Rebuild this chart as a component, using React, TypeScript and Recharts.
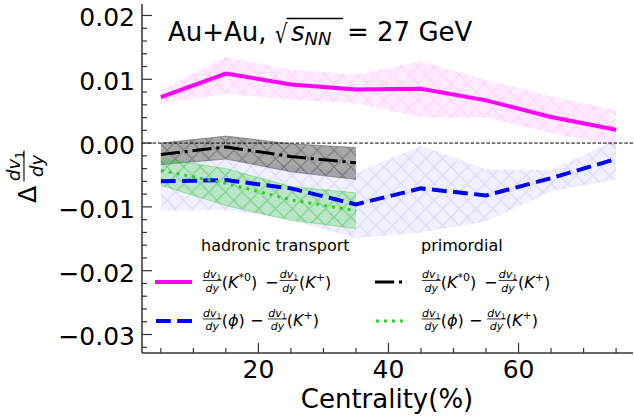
import React from "react";
import { ComposedChart, Line, Area, XAxis, YAxis, ReferenceLine } from "recharts";

// centrality bins (%)
const centrality = [5, 15, 25, 35, 45, 55, 65, 75];
const primCentrality = [5, 15, 25, 35];

// hadronic transport: K*0 - K+
const hadKstar = [0.0072, 0.0109, 0.0092, 0.0084, 0.0085, 0.0067, 0.0041, 0.0021];
const hadKstarLow = [0.0063, 0.0077, 0.0068, 0.0063, 0.004, 0.004, 0.0016, -0.0005];
const hadKstarHigh = [0.0083, 0.0135, 0.0115, 0.0107, 0.0128, 0.0099, 0.0073, 0.0052];

// hadronic transport: phi - K+
const hadPhi = [-0.006, -0.0058, -0.0071, -0.0096, -0.0071, -0.0082, -0.0055, -0.0025];
const hadPhiLow = [-0.0106, -0.0105, -0.012, -0.0149, -0.014, -0.0123, -0.0076, -0.0057];
const hadPhiHigh = [-0.003, -0.0025, -0.0035, -0.0047, -0.0004, -0.0041, -0.0042, 0.0005];

// primordial: K*0 - K+
const primKstar = [-0.0018, -0.0006, -0.0021, -0.0031];
const primKstarLow = [-0.0034, -0.0025, -0.0045, -0.0057];
const primKstarHigh = [0.0, 0.0011, -0.0001, -0.0007];

// primordial: phi - K+
const primPhi = [-0.0043, -0.0063, -0.0089, -0.0106];
const primPhiLow = [-0.0066, -0.0098, -0.0121, -0.0134];
const primPhiHigh = [-0.0024, -0.004, -0.0068, -0.0078];

const xTicks = [5, 10, 15, 20, 25, 30, 35, 40, 45, 50, 55, 60, 65, 70, 75];
const xMajor = [20, 40, 60];
const yTicks = [
  -0.032, -0.03, -0.028, -0.026, -0.024, -0.022, -0.02, -0.018, -0.016, -0.014, -0.012, -0.01,
  -0.008, -0.006, -0.004, -0.002, 0, 0.002, 0.004, 0.006, 0.008, 0.01, 0.012, 0.014, 0.016,
  0.018, 0.02,
];

const FONT = "DejaVu Sans";
const FRAME = "#333";

const hadData = centrality.map((x, i) => ({
  x,
  kstar: hadKstar[i],
  kstarBand: [hadKstarLow[i], hadKstarHigh[i]],
  phi: hadPhi[i],
  phiBand: [hadPhiLow[i], hadPhiHigh[i]],
}));

const primData = primCentrality.map((x, i) => ({
  x,
  kstar: primKstar[i],
  kstarBand: [primKstarLow[i], primKstarHigh[i]],
  phi: primPhi[i],
  phiBand: [primPhiLow[i], primPhiHigh[i]],
}));

const isMajorY = (v: number) => Math.abs(v * 100 - Math.round(v * 100)) < 1e-6;
const fmtY = (v: number) => (v < -1e-9 ? "\u2212" : "") + Math.abs(v).toFixed(2);

function BottomTick(props: any) {
  const { x, y, payload } = props;
  const major = xMajor.includes(payload.value);
  return (
    <g>
      <line x1={x} x2={x} y1={y} y2={y - (major ? 10 : 5)} stroke={FRAME} strokeWidth={1.2} />
      {major && (
        <text x={x} y={y + 25} textAnchor="middle" fontSize={25} fontFamily={FONT} fill="#000">
          {payload.value}
        </text>
      )}
    </g>
  );
}

function TopTick(props: any) {
  const { x, y, payload } = props;
  const major = xMajor.includes(payload.value);
  return <line x1={x} x2={x} y1={y} y2={y + (major ? 10 : 5)} stroke={FRAME} strokeWidth={1.2} />;
}

function LeftTick(props: any) {
  const { x, y, payload } = props;
  const major = isMajorY(payload.value);
  return (
    <g>
      <line x1={x} x2={x + (major ? 10 : 5)} y1={y} y2={y} stroke={FRAME} strokeWidth={1.2} />
      {major && (
        <text x={x - 7} y={y + 11} textAnchor="end" fontSize={25} fontFamily={FONT} fill="#000">
          {fmtY(payload.value)}
        </text>
      )}
    </g>
  );
}

function RightTick(props: any) {
  const { x, y, payload } = props;
  const major = isMajorY(payload.value);
  return <line x1={x} x2={x - (major ? 10 : 5)} y1={y} y2={y} stroke={FRAME} strokeWidth={1.2} />;
}

function Hatch({ id, bg, bgOpacity, line, lineOpacity }: any) {
  const s = 16.7;
  return (
    <pattern id={id} patternUnits="userSpaceOnUse" width={s} height={s}>
      <rect width={s} height={s} fill={bg} fillOpacity={bgOpacity} />
      <path d={`M0,0L${s},${s}M0,${s}L${s},0`} stroke={line} strokeOpacity={lineOpacity} strokeWidth={1} />
    </pattern>
  );
}

// d v_1 / d y fraction
function Frac({ cx, y, size = 11 }: { cx: number; y: number; size?: number }) {
  return (
    <g fontFamily={FONT} fontSize={size} fontStyle="italic" textAnchor="middle" fill="#000">
      <text x={cx} y={y - size * 0.85} fontSize={size}>
        dv<tspan fontSize={size * 0.7} fontStyle="normal" dy={size * 0.2}>1</tspan>
      </text>
      <line x1={cx - size * 0.86} x2={cx + size * 0.86} y1={y - size * 0.64} y2={y - size * 0.64} stroke="#000" strokeWidth={size > 14 ? 1.1 : 0.8} />
      <text x={cx} y={y + size * 0.4} fontSize={size}>dy</text>
    </g>
  );
}

function Particle({ x, y, kind }: { x: number; y: number; kind: "kstar" | "phi" | "kplus" }) {
  return (
    <text x={x} y={y} fontFamily={FONT} fontSize={16} fill="#000">
      (
      {kind === "phi" ? (
        <tspan fontStyle="italic">ϕ</tspan>
      ) : (
        <tspan fontStyle="italic">K</tspan>
      )}
      {kind === "kstar" && (
        <tspan fontSize={11} dy={-7}>
          *0
        </tspan>
      )}
      {kind === "kplus" && (
        <tspan fontSize={11} dy={-7}>
          +
        </tspan>
      )}
      <tspan dy={kind === "phi" ? 0 : 7}>)</tspan>
    </text>
  );
}

function Formula({ x, y, kind }: { x: number; y: number; kind: "kstar" | "phi" }) {
  const kst = kind === "kstar";
  return (
    <g>
      <Frac cx={x + 9.5} y={y} />
      <Particle x={x + 19} y={y} kind={kind} />
      <text x={x + (kst ? 69 : 54)} y={y} textAnchor="middle" fontFamily={FONT} fontSize={16}>
        {"\u2212"}
      </text>
      <Frac cx={x + (kst ? 86.3 : 74.8)} y={y} />
      <Particle x={x + (kst ? 96.3 : 84)} y={y} kind="kplus" />
    </g>
  );
}

function Overlay() {
  return (
    <svg
      width={634}
      height={417}
      style={{ position: "absolute", left: 0, top: 0, pointerEvents: "none" }}
      fontFamily={FONT}
    >
      {/* title */}
      <text x={168} y={41} fontSize={26}>
        Au+Au,
      </text>
      <text x={275} y={43} fontSize={26} textLength={12.5} lengthAdjust="spacingAndGlyphs">
        {"\u221A"}
      </text>
      <line x1={286.5} x2={343} y1={18.5} y2={18.5} stroke="#000" strokeWidth={1.3} />
      <text x={291} y={41} fontSize={26} fontStyle="italic">
        s<tspan fontSize={18} dy={4}>NN</tspan>
      </text>
      <text x={347} y={41} fontSize={26}>
        = 27 GeV
      </text>

      {/* y label */}
      <g transform="translate(36,190) rotate(-90)">
        <text x={-13} y={0} fontSize={25}>
          Δ
        </text>
        <Frac cx={24} y={-0.5} size={18} />
      </g>

      {/* x label */}
      <text x={387} y={408} textAnchor="middle" fontSize={26}>
        Centrality(%)
      </text>

      {/* legend */}
      <text x={201} y={251} fontSize={16}>
        hadronic transport
      </text>
      <text x={421} y={251} fontSize={16}>
        primordial
      </text>

      <line x1={155} x2={192} y1={282} y2={282} stroke="#ff00ff" strokeWidth={4} />
      <Formula x={202.7} y={287.5} kind="kstar" />
      <line x1={156} x2={192} y1={321} y2={321} stroke="#0000ff" strokeWidth={4} strokeDasharray="14.8 6.4" />
      <Formula x={202.7} y={326} kind="phi" />

      <line x1={375} x2={407} y1={282} y2={282} stroke="#000" strokeWidth={3} strokeDasharray="19.2 4.8 3 4.8" />
      <Formula x={421.7} y={287.5} kind="kstar" />
      <line x1={376} x2={408} y1={321} y2={321} stroke="#32cd32" strokeWidth={3} strokeDasharray="3 4.95" />
      <Formula x={421.7} y={326} kind="phi" />
    </svg>
  );
}

export default function App() {
  return (
    <div style={{ position: "absolute", left: 0, top: 0, width: 634, height: 417, background: "#fff" }}>
      <svg width={0} height={0} style={{ position: "absolute" }}>
        <defs>
          <Hatch id="hMag" bg="#ff00ff" bgOpacity={0.07} line="#ff00ff" lineOpacity={0.14} />
          <Hatch id="hBlue" bg="#0000ff" bgOpacity={0.06} line="#0000ff" lineOpacity={0.1} />
          <Hatch id="hGray" bg="#6e6e6e" bgOpacity={0.6} line="#3c3c3c" lineOpacity={0.45} />
          <Hatch id="hGreen" bg="#32cd32" bgOpacity={0.28} line="#32cd32" lineOpacity={0.45} />
        </defs>
      </svg>
      <ComposedChart width={634} height={417} margin={{ top: 4, right: 1, bottom: 0, left: 0 }}>
        <XAxis
          xAxisId="b"
          type="number"
          dataKey="x"
          domain={[2.1, 77.6]}
          ticks={xTicks}
          interval={0}
          allowDataOverflow
          height={64}
          tickSize={0}
          tickMargin={0}
          tickLine={false}
          tick={<BottomTick />}
          axisLine={{ stroke: FRAME, strokeWidth: 1.5 }}
        />
        <XAxis
          xAxisId="t"
          orientation="top"
          type="number"
          dataKey="x"
          domain={[2.1, 77.6]}
          ticks={xTicks}
          interval={0}
          allowDataOverflow
          height={0}
          tickSize={0}
          tickMargin={0}
          tickLine={false}
          tick={<TopTick />}
          axisLine={{ stroke: FRAME, strokeWidth: 1.5 }}
        />
        <YAxis
          yAxisId="l"
          type="number"
          domain={[-0.0329, 0.0218]}
          ticks={yTicks}
          interval={0}
          allowDataOverflow
          width={142}
          tickSize={0}
          tickMargin={0}
          tickLine={false}
          tick={<LeftTick />}
          axisLine={{ stroke: FRAME, strokeWidth: 1.5 }}
        />
        <YAxis
          yAxisId="r"
          orientation="right"
          type="number"
          domain={[-0.0329, 0.0218]}
          ticks={yTicks}
          interval={0}
          allowDataOverflow
          width={0}
          tickSize={0}
          tickMargin={0}
          tickLine={false}
          tick={<RightTick />}
          axisLine={{ stroke: FRAME, strokeWidth: 1.5 }}
        />
        <ReferenceLine xAxisId="b" yAxisId="l" y={0} stroke="#000" strokeWidth={1} strokeDasharray="3.5 1.8" />

        <Area xAxisId="b" yAxisId="l" data={hadData} dataKey="kstarBand" type="linear" stroke="none" fill="url(#hMag)" fillOpacity={1} isAnimationActive={false} />
        <Area xAxisId="b" yAxisId="l" data={hadData} dataKey="phiBand" type="linear" stroke="none" fill="url(#hBlue)" fillOpacity={1} isAnimationActive={false} />
        <Area xAxisId="b" yAxisId="l" data={primData} dataKey="kstarBand" type="linear" stroke="#555" strokeOpacity={0.5} strokeWidth={1} fill="url(#hGray)" fillOpacity={1} isAnimationActive={false} />
        <Area xAxisId="b" yAxisId="l" data={primData} dataKey="phiBand" type="linear" stroke="#32cd32" strokeOpacity={0.4} strokeWidth={1} fill="url(#hGreen)" fillOpacity={1} isAnimationActive={false} />

        <Line xAxisId="b" yAxisId="l" data={hadData} dataKey="kstar" type="linear" stroke="#ff00ff" strokeWidth={4} dot={false} isAnimationActive={false} />
        <Line xAxisId="b" yAxisId="l" data={hadData} dataKey="phi" type="linear" stroke="#0000ff" strokeWidth={4} strokeDasharray="14.8 6.4" dot={false} isAnimationActive={false} />
        <Line xAxisId="b" yAxisId="l" data={primData} dataKey="kstar" type="linear" stroke="#000" strokeWidth={3} strokeDasharray="19.2 4.8 3 4.8" dot={false} isAnimationActive={false} />
        <Line xAxisId="b" yAxisId="l" data={primData} dataKey="phi" type="linear" stroke="#32cd32" strokeWidth={3} strokeDasharray="3 4.95" dot={false} isAnimationActive={false} />
      </ComposedChart>
      <Overlay />
    </div>
  );
}
